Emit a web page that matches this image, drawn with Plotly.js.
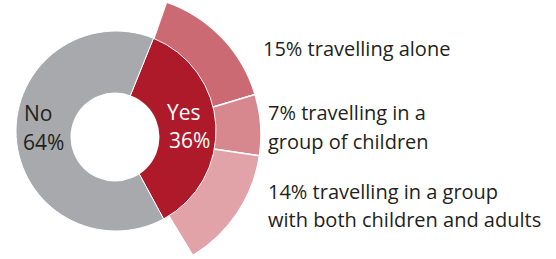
<!DOCTYPE html>
<html><head><meta charset="utf-8">
<script src="https://cdn.plot.ly/plotly-3.0.1.min.js"></script>
<style>
html,body{margin:0;padding:0;overflow:hidden;background:#fff;width:556px;height:259px}
#chart{position:absolute;left:-30px;top:-40px;width:620px;height:340px}
</style>
</head><body><div id="chart"></div>
<script>
// ---- data ----
const mainLabels = ['Yes', 'No'];
const mainValues = [36, 64];
const subLabels = ['travelling alone', 'travelling in a group of children', 'travelling in a group with both children and adults'];
const subValues = [15, 7, 14];
const subTextLines = [
  ['15% travelling alone'],
  ['7% travelling in a', 'group of children'],
  ['14% travelling in a group', 'with both children and adults']
];
const mainColors = ['#ae1a29', '#a7a9ac'];
const subColors = ['#cb6a72', '#d6888e', '#e1a3a8'];

// ---- layout helpers (screen px -> paper fractions) ----
const W = 620, H = 340, OX = 30, OY = 40;
function dom(cx, cy, r) {
  return {x: [(cx - r + OX) / W, (cx + r + OX) / W],
          y: [1 - (cy + r + OY) / H, 1 - (cy - r + OY) / H]};
}
const px = x => (x + OX) / W;
const py = y => 1 - (y + OY) / H;

const total = mainValues.reduce((a, b) => a + b, 0);
const subSum = subValues.reduce((a, b) => a + b, 0);

const outer = {
  type: 'pie', sort: false, direction: 'clockwise', rotation: 19.3,
  values: subValues.concat([total - subSum]),
  labels: subLabels.concat(['rest']),
  marker: {colors: subColors.concat(['rgba(0,0,0,0)']),
           line: {color: ['#fff', '#fff', '#fff', 'rgba(0,0,0,0)'], width: [1.5, 1.5, 1.5, 0]}},
  hole: 0.5, textinfo: 'none', hoverinfo: 'skip', showlegend: false,
  domain: dom(120, 135, 141)
};
const inner = {
  type: 'pie', sort: false, direction: 'clockwise', rotation: 22,
  values: mainValues, labels: mainLabels,
  marker: {colors: mainColors, line: {color: '#fff', width: 1}},
  textinfo: 'none', hoverinfo: 'skip', showlegend: false,
  domain: dom(116, 131, 100)
};
const hole = {
  type: 'pie', sort: false, values: [1], labels: ['hole'],
  marker: {colors: ['#ffffff'], line: {width: 0}},
  textinfo: 'none', hoverinfo: 'skip', showlegend: false,
  domain: dom(115, 137, 44.5)
};

const dark = '#231f20';
const FONT = '"Open Sans", sans-serif';
const ann = [];
function addText(text, x, y, size, color, xanchor) {
  ann.push({text: text, xref: 'paper', yref: 'paper', x: px(x), y: py(y),
            xanchor: xanchor, yanchor: 'middle', showarrow: false,
            font: {family: FONT, size: size, color: color}});
}
// inner labels
addText(mainLabels[1], 38, 113, 21, dark, 'center');
addText(mainValues[1] + '%', 43, 142, 21, dark, 'center');
addText(mainLabels[0], 184, 112, 21, '#ffffff', 'center');
addText(mainValues[0] + '%', 189, 140, 21, '#ffffff', 'center');
// outer labels
const lineY = [[49], [112, 141], [191, 219]];
const lineX = [261, 266, 266];
subTextLines.forEach((lines, i) => {
  lines.forEach((t, j) => addText(t, lineX[i], lineY[i][j], 20, dark, 'left'));
});

Plotly.newPlot('chart', [outer, inner, hole], {
  width: W, height: H, margin: {l: 0, r: 0, t: 0, b: 0},
  paper_bgcolor: '#fff', plot_bgcolor: '#fff', showlegend: false,
  annotations: ann
}, {displayModeBar: false, staticPlot: true});
</script>
</body></html>
